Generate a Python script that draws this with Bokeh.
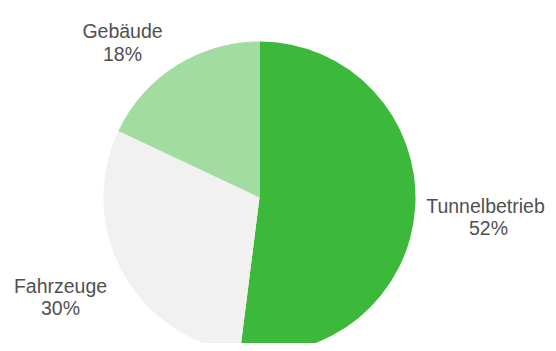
import math
from bokeh.plotting import figure
from bokeh.models import Range1d, ColumnDataSource
from bokeh.core.properties import value
from bokeh.embed import file_html
from bokeh.resources import INLINE

# ---- data ----
categories = ["Tunnelbetrieb", "Fahrzeuge", "Gebäude"]
shares = [52, 30, 18]
colors = ["#3cb93a", "#f1f1f1", "#a2dca0"]

# ---- layout (pixels within the figure) ----
W, H = 548, 343
cx, cy, r = 259, 197, 156
name_x = [485, 60, 122]
pct_x = [488, 60, 122]
name_base = [205, 285, 30]
pct_base = [227, 307, 53]

total = float(sum(shares))
starts, ends = [], []
acc = 0.0
for s in shares:
    a0 = math.pi / 2 - 2 * math.pi * acc / total
    acc += s
    a1 = math.pi / 2 - 2 * math.pi * acc / total
    starts.append(a0)
    ends.append(a1)

src = ColumnDataSource(dict(x=[cx] * 3, y=[H - cy] * 3, start=starts, end=ends, color=colors))

p = figure(width=W, height=H, output_backend="svg", toolbar_location=None,
           x_range=Range1d(0, W), y_range=Range1d(0, H),
           min_border=0, min_border_left=0, min_border_right=0,
           min_border_top=0, min_border_bottom=0)
p.axis.visible = False
p.grid.visible = False
p.outline_line_color = None
p.background_fill_color = "white"

p.wedge(x="x", y="y", radius=r, start_angle="start", end_angle="end",
        direction="clock", fill_color="color", line_color=None, source=src)

lab = ColumnDataSource(dict(
    xn=name_x,
    xp=pct_x,
    yn=[H - v for v in name_base],
    yp=[H - v for v in pct_base],
    name=categories,
    pct=[f"{s}%" for s in shares],
))
for xcol, ycol, tcol in (("xn", "yn", "name"), ("xp", "yp", "pct")):
    p.text(x=xcol, y=ycol, text=tcol, source=lab, text_align="center",
           text_baseline="alphabetic", text_font=value("Liberation Sans"),
           text_font_size="19.5px", text_color="#505050")

open("out.html", "w").write(file_html(p, INLINE))
